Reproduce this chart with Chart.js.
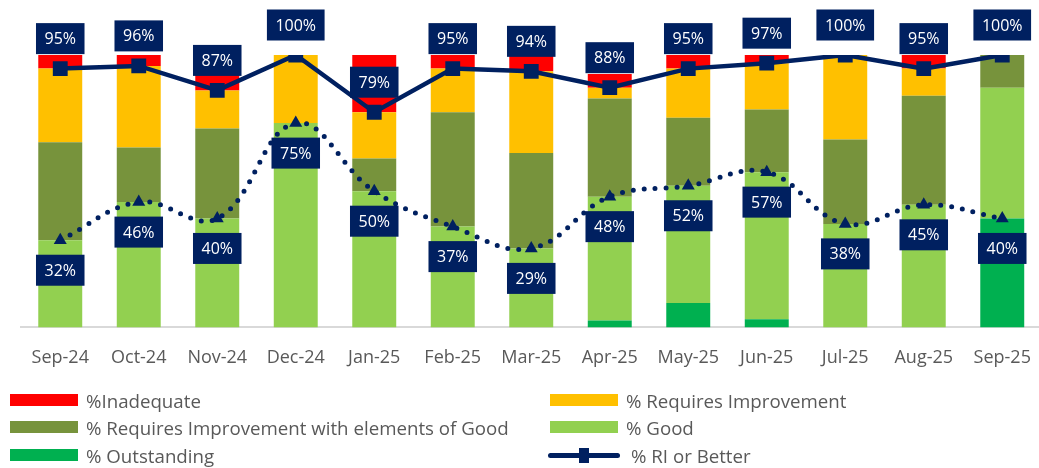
<!DOCTYPE html>
<html>
<head>
<meta charset="utf-8">
<script src="https://cdn.jsdelivr.net/npm/chart.js@4.4.1/dist/chart.umd.min.js"></script>
<style>
    body { margin: 0; background: #ffffff; overflow: hidden; }
    #wrap { position: relative; width: 1039px; height: 468px; overflow: hidden; }
    #legend { position: absolute; left: 0; top: 0; width: 1039px; height: 468px; pointer-events: none;
              font-family: 'Open Sans', sans-serif; font-size: 18.7px; color: #595959; }
    .item { position: absolute; height: 28px; display: flex; align-items: center; white-space: nowrap; }
    .swatch { width: 68px; height: 12px; margin-right: 8px; }
    .lineSwatch { position: relative; width: 72px; height: 5px; border-radius: 3px; margin-right: 11px; }
    .lineSwatch span { position: absolute; left: 31px; top: -5px; width: 10px; height: 15px; }
</style>
</head>
<body>
<div id="wrap">
    <canvas id="ratingChart" width="1052" height="468"></canvas>
    <div id="legend"></div>
</div>
<script>
// months on the x axis
const months = ['Sep-24', 'Oct-24', 'Nov-24', 'Dec-24', 'Jan-25', 'Feb-25', 'Mar-25',
                'Apr-25', 'May-25', 'Jun-25', 'Jul-25', 'Aug-25', 'Sep-25'];

// stacked bar values (%), bottom to top
const pctOutstanding = [0, 0, 0, 0, 0, 0, 0, 2.5, 9, 3, 0, 0, 40];
const pctGood        = [32, 46, 40, 75, 50, 37, 29, 45.5, 43, 54, 38, 45, 48];
const pctRIGood      = [36, 20, 33, 0, 12, 42, 35, 36, 25, 23, 31, 40, 12];
const pctRI          = [27, 30, 14, 25, 17, 16, 30, 4, 18, 17, 31, 10, 0];
const pctInadequate  = [5, 4, 6, 0, 21, 5, 6, 5, 5, 3, 0, 5, 0];

// line values (%)
const pctRIorBetter   = [95, 96, 87, 100, 79, 95, 94, 88, 95, 97, 100, 95, 100];
const pctGoodOrBetter = [32, 46, 40, 75, 50, 37, 29, 48, 52, 57, 38, 45, 40];

const NAVY = '#002060';

// navy boxes with white % text, above or below each point
const boxLabels = {
    id: 'boxLabels',
    afterDatasetsDraw(chart) {
        const ctx = chart.ctx;
        ctx.save();
        ctx.font = '16px "Open Sans"';
        ctx.textAlign = 'center';
        ctx.textBaseline = 'middle';
        chart.data.datasets.forEach((ds, i) => {
            if (!ds.boxLabel) return;
            const meta = chart.getDatasetMeta(i);
            meta.data.forEach((pt, j) => {
                const text = ds.data[j] + '%';
                const w = ctx.measureText(text).width + 17;
                const h = 31;
                const cy = ds.boxLabel === 'above' ? pt.y - 30 : pt.y + 30;
                ctx.fillStyle = NAVY;
                ctx.fillRect(pt.x - w / 2, cy - h / 2, w, h);
                ctx.fillStyle = '#ffffff';
                ctx.fillText(text, pt.x, cy + 1);
            });
        });
        ctx.restore();
    }
};

function barSet(label, data, color) {
    return {
        type: 'bar',
        label: label,
        data: data,
        backgroundColor: color,
        borderWidth: 0,
        barPercentage: 0.56,
        categoryPercentage: 1,
        order: 2
    };
}

const ctx = document.getElementById('ratingChart');
const ratingChart = new Chart(ctx, {
    data: {
        labels: months,
        datasets: [
            barSet('% Outstanding', pctOutstanding, '#00B050'),
            barSet('% Good', pctGood, '#92D050'),
            barSet('% Requires Improvement with elements of Good', pctRIGood, '#77933C'),
            barSet('% Requires Improvement', pctRI, '#FFC000'),
            barSet('%Inadequate', pctInadequate, '#FF0000'),
            {
                type: 'line',
                label: '% Good or Better',
                data: pctGoodOrBetter,
                stack: 'gob',
                borderColor: NAVY,
                borderWidth: 5,
                borderDash: [0, 11],
                borderCapStyle: 'round',
                tension: 0.4,
                pointStyle: 'triangle',
                pointRadius: 7.5,
                pointBackgroundColor: NAVY,
                pointBorderWidth: 0,
                boxLabel: 'below',
                order: 1
            },
            {
                type: 'line',
                label: '% RI or Better',
                data: pctRIorBetter,
                stack: 'rib',
                borderColor: NAVY,
                borderWidth: 4.5,
                tension: 0,
                pointStyle: 'rect',
                pointRadius: 10.5,
                pointBackgroundColor: NAVY,
                pointBorderWidth: 0,
                boxLabel: 'above',
                order: 0
            }
        ]
    },
    options: {
        responsive: false,
        animation: false,
        layout: {
            padding: { left: 21, right: 0, top: 55, bottom: 87 }
        },
        scales: {
            x: {
                stacked: true,
                grid: { display: false },
                border: { color: '#d9d9d9', width: 2 },
                ticks: {
                    color: '#595959',
                    padding: 12,
                    font: { family: 'Open Sans', size: 18 }
                }
            },
            y: {
                stacked: true,
                display: false,
                min: 0,
                max: 100
            }
        },
        plugins: {
            legend: { display: false },
            tooltip: { enabled: false }
        }
    },
    plugins: [boxLabels]
});

// legend in two columns, built from the chart datasets
const legendSlots = [
    ['%Inadequate', 10, 400],
    ['% Requires Improvement', 550, 400],
    ['% Requires Improvement with elements of Good', 10, 427],
    ['% Good', 550, 427],
    ['% Outstanding', 10, 455],
    ['% RI or Better', 548, 455]
];
const legendDiv = document.getElementById('legend');
legendSlots.forEach(([name, x, y]) => {
    const ds = ratingChart.data.datasets.find(d => d.label === name);
    const item = document.createElement('div');
    item.className = 'item';
    item.style.left = x + 'px';
    item.style.top = (y - 14) + 'px';
    let mark;
    if (ds.type === 'line') {
        mark = document.createElement('div');
        mark.className = 'lineSwatch';
        mark.style.background = ds.borderColor;
        const sq = document.createElement('span');
        sq.style.background = ds.pointBackgroundColor;
        mark.appendChild(sq);
    } else {
        mark = document.createElement('div');
        mark.className = 'swatch';
        mark.style.background = ds.backgroundColor;
    }
    item.appendChild(mark);
    const txt = document.createElement('span');
    txt.textContent = ds.label;
    item.appendChild(txt);
    legendDiv.appendChild(item);
});
</script>
</body>
</html>
